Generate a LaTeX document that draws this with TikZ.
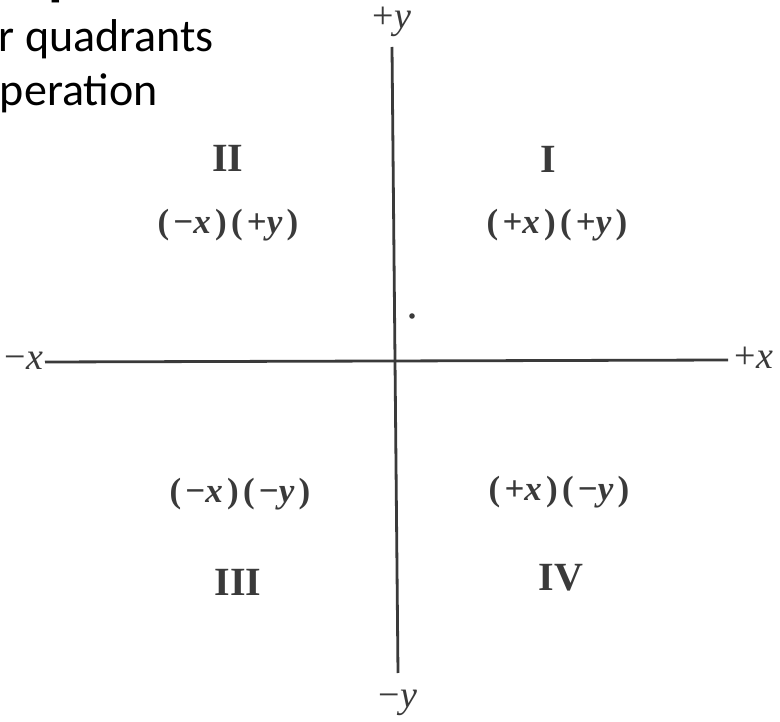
\documentclass[tikz,border=0pt]{standalone}
\usepackage{fontspec}
\setmainfont{Liberation Serif}
\newfontfamily\slidefont{Carlito}
\newfontfamily\labfont[LetterSpace=12]{Liberation Serif}
\definecolor{ink}{HTML}{3A3A3A}
\begin{document}
\begin{tikzpicture}[x=1pt,y=-1pt,
  axis/.style={line width=2.8pt, draw=ink},
  quadlab/.style={font=\labfont\bfseries\fontsize{35}{40}\selectfont, text=ink, inner sep=0pt},
  numlab/.style={font=\bfseries\fontsize{40}{44}\selectfont, text=ink, inner sep=0pt},
  axlab/.style={font=\fontsize{38}{42}\selectfont, text=ink, inner sep=0pt, anchor=base},
  slide/.style={font=\slidefont\fontsize{46}{54}\selectfont, text=black, inner sep=0pt, anchor=base east}]
\useasboundingbox (0,0) rectangle (780,722);
\clip (0,0) rectangle (780,722);
\fill[white] (0,0) rectangle (780,722);

% slide text (cut off at the left and top)
\node[font=\slidefont\bfseries\fontsize{60}{66}\selectfont, inner sep=0pt, anchor=base west] (title) at (48,-6) {p};
\node[slide] (line1) at (214,52) {r quadrants};
\node[slide] (line2) at (158,106) {peration};

% axes
\coordinate (ytop) at (392,47);
\coordinate (ybot) at (398,673);
\coordinate (xleft) at (45,362);
\coordinate (xright) at (728,360);
\draw[axis] (ybot) -- (ytop);
\draw[axis] (xleft) -- (xright);

% axis labels
\node[axlab] (py) at (392,29) {+\textit{y}};
\node[axlab] (my) at (398,707) {−\textit{y}};
\node[axlab] (mx) at (24,370) {−\textit{x}};
\node[axlab] (px) at (754,369) {+\textit{x}};

% quadrant numerals
\node[numlab] (q1) at (548,159) {I};
\node[numlab] (q2) at (228,158) {II};
\node[numlab] (q3) at (238,582) {III};
\node[numlab] (q4) at (561,578) {IV};

% sign labels
\node[quadlab] (s1) at (557,225) {(+\textit{x})(+\textit{y})};
\node[quadlab] (s2) at (228,225) {(−\textit{x})(+\textit{y})};
\node[quadlab] (s3) at (240,494) {(−\textit{x})(−\textit{y})};
\node[quadlab] (s4) at (559,492) {(+\textit{x})(−\textit{y})};

% small dot
\fill[ink] (412,316) circle (2.8);
\end{tikzpicture}
\end{document}
